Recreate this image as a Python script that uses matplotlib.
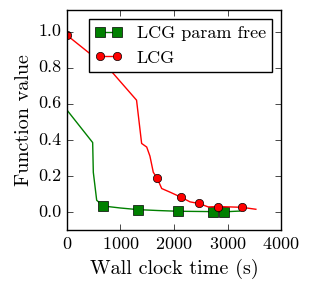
import numpy as np
import matplotlib
matplotlib.use("Agg")
import matplotlib.pyplot as plt

plt.style.use("classic")
plt.rcParams["font.family"] = ["cmr10", "DejaVu Serif"]
plt.rcParams["axes.formatter.use_mathtext"] = True

# LCG param free (green)
free_time = [0, 480, 492, 555, 680, 1000, 1330, 1700, 2070, 2400, 2720, 2940, 3230]
free_value = [0.565, 0.385, 0.22, 0.065, 0.033, 0.022, 0.013, 0.008, 0.004, 0.003, 0.002, 0.001, 0.005]
free_marks = [4, 6, 8, 10, 11]

# LCG (red)
lcg_time = [0, 800, 1300, 1395, 1490, 1550, 1613, 1688, 1770, 1925, 2130, 2300,
            2467, 2640, 2820, 3265, 3530]
lcg_value = [0.98, 0.79, 0.62, 0.38, 0.36, 0.31, 0.22, 0.186, 0.13, 0.11, 0.082, 0.056,
             0.047, 0.028, 0.030, 0.026, 0.015]
lcg_marks = [0, 7, 10, 12, 14, 15]

fig = plt.figure(figsize=(3.12, 2.91), dpi=100, facecolor="white")
ax = fig.add_axes([0.2147, 0.2096, 0.686, 0.756])

ax.plot(free_time, free_value, "g-", marker="s", markersize=7, markevery=free_marks,
        label="LCG param free")
ax.plot(lcg_time, lcg_value, "r-", marker="o", markersize=6, markevery=lcg_marks,
        label="LCG")

ax.set_xlim(0, 4000)
ax.set_ylim(-0.1, 1.12)
ax.set_xticks([0, 1000, 2000, 3000, 4000])
ax.set_yticks([0.0, 0.2, 0.4, 0.6, 0.8, 1.0])
ax.set_yticklabels(["0.0", "0.2", "0.4", "0.6", "0.8", "1.0"])
ax.tick_params(labelsize=13)
ax.set_xlabel("Wall clock time (s)", fontsize=14.5)
ax.set_ylabel("Function value", fontsize=14.5, labelpad=4)

ax.legend(loc="upper right", numpoints=2, fontsize=13, borderaxespad=0.5,
          handlelength=1.5, handletextpad=0.8, borderpad=0.35)

fig.savefig("out.png", dpi=100, facecolor="white")
